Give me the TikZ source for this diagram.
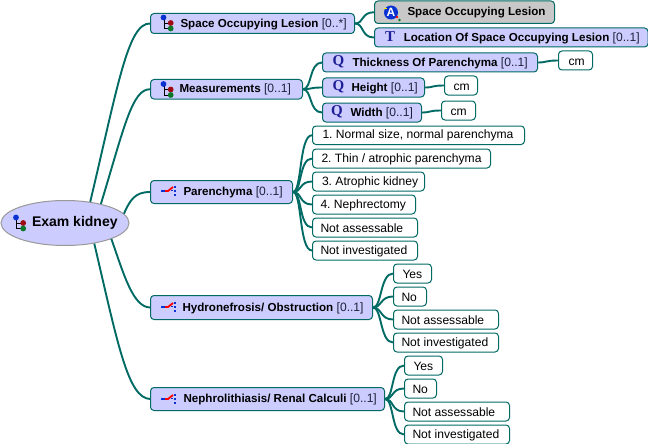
\documentclass[tikz,border=0pt]{standalone}
\usepackage{fontspec}
\setmainfont{Liberation Sans}
\newfontfamily\glyphfont{Liberation Serif}
\definecolor{teal1}{HTML}{006B64}
\definecolor{fillblue}{HTML}{CCCCFF}
\definecolor{fillgray}{HTML}{C8C8C8}
\definecolor{iconblue}{HTML}{0A32D2}
\definecolor{iconred}{HTML}{A00A14}
\definecolor{icongreen}{HTML}{0A7828}
\definecolor{glyphblue}{HTML}{1E1E96}
\definecolor{brack}{HTML}{20203A}
\usetikzlibrary{shapes.geometric}
\frenchspacing
\tikzset{
  basebox/.style={draw=teal1,line width=1pt,rounded corners=3.5pt,inner sep=0pt,anchor=north west,font=\fontsize{12.1}{14}\selectfont},
  concept/.style={basebox,fill=fillblue},
  grayconcept/.style={basebox,fill=fillgray},
  answer/.style={basebox,fill=white},
  link/.style={draw=teal1,line width=1.9pt},
  fan/.style={link,out=0,in=180,out distance=9pt,in distance=13pt},
  glyph/.style={font=\glyphfont\bfseries\fontsize{15}{15}\selectfont,text=glyphblue,inner sep=0pt},
}
\newcommand{\bx}[7]{%
  \pgfmathsetmacro{\boxw}{#5-#3}\pgfmathsetmacro{\boxh}{#6-#4}
  \node[#1,minimum width=\boxw pt,minimum height=\boxh pt] (#2) at (#3,#4) {#7};}
\newcommand{\lbl}[3]{\makebox[#1pt][l]{\hspace*{#2pt}\vphantom{Agy}\raisebox{-1.6pt}{#3}}}
\newcommand{\bt}[1]{{\fontsize{11.6}{14}\selectfont\bfseries #1}}
\newcommand{\cb}[1]{{\color{brack}#1}}
\newcommand{\treeicon}[2]{%
  \begin{scope}[shift={(#1,#2)}]
    \draw[black,line width=.9pt] (1,3) -- (1,11.5) -- (7,11.5) (1,6) -- (7,6);
    \fill[iconblue] (0.5,0.5) circle (2.9pt);
    \fill[iconred] (7.7,6) circle (2.9pt);
    \fill[icongreen] (7.7,11.5) circle (2.9pt);
  \end{scope}}
\newcommand{\brancon}[2]{%
  \begin{scope}[shift={(#1,#2)}]
    \draw[iconblue,line width=1.6pt] (0,5) -- (5,5);
    \draw[red,line width=1.8pt] (4,5) -- (7,5) -- (12,1);
    \fill[iconblue] (12.5,-.5) rectangle +(2,2.2);
    \fill[iconblue] (12.5,4) rectangle +(2,2);
    \fill[iconblue] (12.5,8) rectangle +(2,2);
    \fill[iconblue] (10,3.5) rectangle +(2,1.5);
  \end{scope}}
\begin{document}
\begin{tikzpicture}[x=1pt,y=-1pt]
\useasboundingbox (0,0) rectangle (648,444);
\fill[white] (0,0) rectangle (648,444);
% root
\node[ellipse,draw=gray!80,line width=1pt,fill=fillblue,minimum width=128pt,minimum height=45pt,inner sep=0pt,font=\bfseries\fontsize{14}{16}\selectfont] (root) at (65,223) {\makebox[0pt][l]{\hspace*{-33pt}\raisebox{-1.5pt}{Exam kidney}}};
% level 1
\bx{concept}{sol}{150}{13}{354}{33}{\lbl{204}{30}{\bt{Space Occupying Lesion} \cb{[0..*]}}}
\bx{concept}{meas}{150}{79}{302}{98.5}{\lbl{152}{29}{\bt{Measurements} \cb{[0..1]}}}
\bx{concept}{par}{150}{180}{292}{203}{\lbl{142}{33}{\bt{Parenchyma} \cb{[0..1]}}}
\bx{concept}{hyd}{150}{295}{372}{319}{\lbl{222}{32}{\bt{Hydronefrosis/ Obstruction} \cb{[0..1]}}}
\bx{concept}{nep}{150}{387}{384}{410}{\lbl{234}{33}{\bt{Nephrolithiasis/ Renal Calculi} \cb{[0..1]}}}
% level 2 under lesion
\bx{grayconcept}{solc}{374}{0.5}{554}{23}{\lbl{180}{33}{\bt{Space Occupying Lesion}}}
\bx{concept}{loc}{374}{27.5}{647.5}{46.5}{\lbl{273}{29}{\bt{Location Of Space Occupying Lesion} \cb{[0..1]}}}
% measurements
\bx{concept}{thick}{322}{52.5}{537}{71.5}{\lbl{215}{30}{\bt{Thickness Of Parenchyma} \cb{[0..1]}}}
\bx{concept}{hgt}{322}{77.5}{424}{96.5}{\lbl{102}{29}{\bt{Height} \cb{[0..1]}}}
\bx{concept}{wid}{322}{102.5}{421}{121.5}{\lbl{99}{28}{\bt{Width} \cb{[0..1]}}}
\bx{answer}{cma}{558}{50.5}{592}{69.5}{\lbl{34}{10}{cm}}
\bx{answer}{cmb}{444}{75.5}{477}{94.5}{\lbl{33}{9}{cm}}
\bx{answer}{cmc}{441}{100.5}{475}{119.5}{\lbl{34}{9}{cm}}
% parenchyma answers
\bx{answer}{pa}{312}{125.5}{524}{144}{\lbl{212}{10}{1. Normal size, normal parenchyma}}
\bx{answer}{pb}{312}{148.5}{490}{167.5}{\lbl{178}{9}{2. Thin / atrophic parenchyma}}
\bx{answer}{pc}{312}{171.5}{424}{190.5}{\lbl{112}{9.5}{3. Atrophic kidney}}
\bx{answer}{pd}{312}{194.5}{415}{213.5}{\lbl{103}{8}{4. Nephrectomy}}
\bx{answer}{pe}{312}{217.5}{417}{236.5}{\lbl{105}{8}{Not assessable}}
\bx{answer}{pf}{312}{240.5}{417}{259.5}{\lbl{105}{8}{Not investigated}}
% hydronephrosis answers
\bx{answer}{ha}{393}{263.5}{431}{282.5}{\lbl{38}{9}{Yes}}
\bx{answer}{hb}{393}{286.5}{426}{305.5}{\lbl{33}{8}{No}}
\bx{answer}{hc}{393}{309.5}{498}{328.5}{\lbl{105}{8}{Not assessable}}
\bx{answer}{hd}{393}{332.5}{498}{351.5}{\lbl{105}{8}{Not investigated}}
% nephrolithiasis answers
\bx{answer}{na}{404}{355.5}{442}{374.5}{\lbl{38}{9}{Yes}}
\bx{answer}{nb}{404}{378.5}{436}{397.5}{\lbl{32}{8}{No}}
\bx{answer}{nc}{404}{401.5}{509}{420.5}{\lbl{105}{8}{Not assessable}}
\bx{answer}{nd}{404}{424.5}{509}{443.5}{\lbl{105}{8}{Not investigated}}
% root links
\draw[link] (root.40) .. controls (118,85) and (128,23) .. (sol.west);
\draw[link] (root.28) .. controls (124,128) and (132,89) .. (meas.west);
\draw[link] (root.9) .. controls (130,200) and (135,192) .. (par.west);
\draw[link] (root.-19) .. controls (124,275) and (133,307) .. (hyd.west);
\draw[link] (root.-35) .. controls (118,345) and (128,398) .. (nep.west);
% fans
\foreach \a/\b in {sol/solc,sol/loc,meas/thick,meas/hgt,meas/wid,thick/cma,hgt/cmb,wid/cmc,
  par/pa,par/pb,par/pc,par/pd,par/pe,par/pf,hyd/ha,hyd/hb,hyd/hc,hyd/hd,nep/na,nep/nb,nep/nc,nep/nd}
  \draw[fan] (\a.east) to (\b.west);
% icons
\treeicon{15.5}{217}
\treeicon{163}{17}
\treeicon{163}{83.5}
\brancon{161}{186}
\brancon{161}{302}
\brancon{161}{394}
\fill[iconblue] (391,12.5) circle (7pt);
\node[font=\bfseries\fontsize{12}{12}\selectfont,text=white,inner sep=0pt] (aicon) at (391,12.5) {A};
\fill[red] (397,17) circle (1.4pt);
\fill[icongreen] (399.5,20) circle (1.4pt);
\fill[yellow] (384,8) rectangle +(3,1);
\node[glyph] (tg) at (390,37) {T};
\node[glyph] (qa) at (338.5,62) {Q};
\node[glyph] (qb) at (338.5,87) {Q};
\node[glyph] (qc) at (337,111.5) {Q};
\end{tikzpicture}
\end{document}
